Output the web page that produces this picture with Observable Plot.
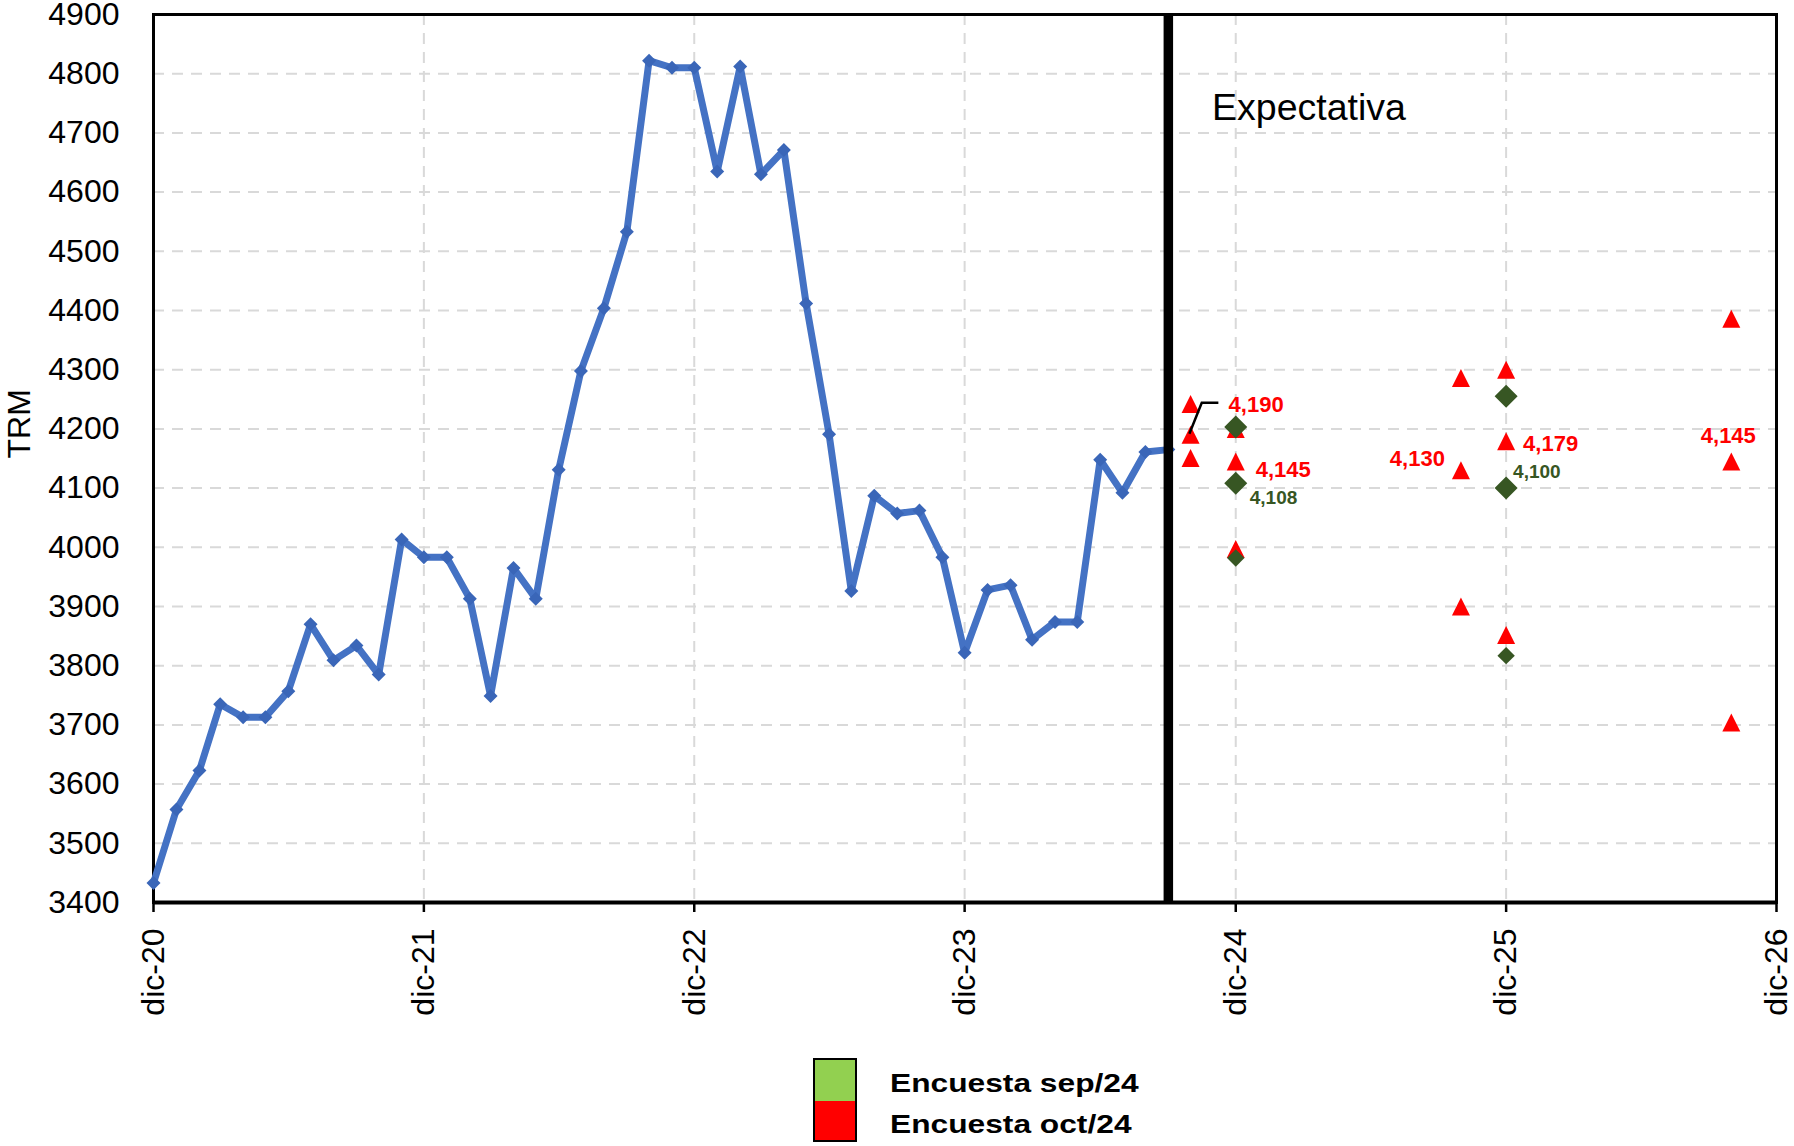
<!DOCTYPE html>
<html>
<head>
<meta charset="utf-8">
<script src="https://cdn.jsdelivr.net/npm/d3@7"></script>
<script src="https://cdn.jsdelivr.net/npm/@observablehq/plot@0.6"></script>
<style>
  html, body { margin: 0; padding: 0; background: #fff; }
  body { width: 1794px; height: 1146px; overflow: hidden; font-family: "Liberation Sans", Arial, sans-serif; }
  #legend { position: relative; width: 1794px; height: 96px; }
  .sw { position: absolute; left: 813px; width: 40px; border: 2px solid #000; }
  .lt { position: absolute; left: 890px; font-weight: bold; font-size: 26px; line-height: 26px; color: #000;
        transform: scaleX(1.22); transform-origin: left center; white-space: nowrap; }
</style>
</head>
<body>
<div id="chart"></div>
<div id="legend">
  <div class="sw" style="top:8px;height:41px;background:#92D050;"></div>
  <div class="sw" style="top:51px;height:39px;background:#FF0000;border-top:none;"></div>
  <div class="lt" style="top:20px;">Encuesta sep/24</div>
  <div class="lt" style="top:61px;">Encuesta oct/24</div>
</div>
<script>
// ---- Data ----
const meses = [
  "2020-12",
  "2021-01","2021-02","2021-03","2021-04","2021-05","2021-06","2021-07","2021-08","2021-09","2021-10","2021-11","2021-12",
  "2022-01","2022-02","2022-03","2022-04","2022-05","2022-06","2022-07","2022-08","2022-09","2022-10","2022-11","2022-12",
  "2023-01","2023-02","2023-03","2023-04","2023-05","2023-06","2023-07","2023-08","2023-09","2023-10","2023-11","2023-12",
  "2024-01","2024-02","2024-03","2024-04","2024-05","2024-06","2024-07","2024-08","2024-09"
];
const trm = [
  3433,
  3557,3623,3735,3713,3713,3757,3870,3809,3834,3785,4013,3983,
  3983,3913,3749,3965,3913,4131,4298,4404,4533,4822,4810,4810,
  4635,4812,4630,4671,4412,4191,3926,4087,4057,4062,3983,3822,
  3928,3936,3844,3874,3874,4148,4092,4161,4165
];
// Encuesta oct/24 (rojo): máximo, mediana, mínimo
const fechasOct = ["2024-10","2024-12","2025-10","2025-12","2026-10"];
const octMax = [4242, 4200, 4286, 4300, 4386];
const octMed = [4190, 4145, 4130, 4179, 4145];
const octMin = [4151, 3997, 3900, 3852, 3704];
// Encuesta sep/24 (verde): máximo, mediana, mínimo
const fechasSep = ["2024-12","2025-12"];
const sepMax = [4203, 4255];
const sepMed = [4108, 4100];
const sepMin = [3982, 3817];
// Ejes
const yTicks = [3400,3500,3600,3700,3800,3900,4000,4100,4200,4300,4400,4500,4600,4700,4800,4900];
const xTicks = ["2020-12","2021-12","2022-12","2023-12","2024-12","2025-12","2026-12"];
const mesesAbr = ["ene","feb","mar","abr","may","jun","jul","ago","sep","oct","nov","dic"];
const ultimoDato = "2024-09";

// ---- Build ----
const P = d3.utcParse("%Y-%m");
const fmt = d3.format(",");
const serie = meses.map((m, i) => ({date: P(m), v: trm[i]}));
const table = (fechas, vals) => fechas.map((f, i) => ({date: P(f), v: vals[i]}));
const tri = {draw(ctx, size) { const r = Math.sqrt(size / Math.PI); ctx.moveTo(0, -r); ctx.lineTo(r, r); ctx.lineTo(-r, r); ctx.closePath(); }};
const dia = {draw(ctx, size) { const r = Math.sqrt(size / Math.PI); ctx.moveTo(0, -r); ctx.lineTo(r, 0); ctx.lineTo(0, r); ctx.lineTo(-r, 0); ctx.closePath(); }};
const FONT = "Liberation Sans, Arial, sans-serif";
const RED = "#FF0000", GREEN = "#375623", BLUE = "#4472C4";

function label(fecha, val, color, size, dx, dy, anchor) {
  return Plot.text([val], {
    x: () => P(fecha), y: d => d, text: d => fmt(d),
    dx, dy, textAnchor: anchor, lineAnchor: "bottom",
    fill: color, fontSize: size, fontWeight: "bold", fontFamily: FONT
  });
}

const grid = {stroke: "#D9D9D9", strokeOpacity: 1, strokeWidth: 2, strokeDasharray: "11,8"};

const chart = Plot.plot({
  width: 1794, height: 1050,
  marginLeft: 153, marginRight: 18, marginTop: 14, marginBottom: 148,
  style: {fontFamily: FONT, background: "#fff", color: "#000", overflow: "visible"},
  x: {type: "utc", domain: [P("2020-12"), P("2026-12")]},
  y: {domain: [3400, 4900]},
  marks: [
    Plot.gridY(yTicks.slice(1, -1), grid),
    Plot.gridX(xTicks.slice(1, -1).map(P), grid),
    Plot.frame({stroke: "#000", strokeWidth: 3}),
    Plot.ruleY([3400], {stroke: "#000", strokeWidth: 4}),
    Plot.line(serie, {x: "date", y: "v", stroke: BLUE, strokeWidth: 7, strokeLinejoin: "miter"}),
    Plot.dot(serie, {x: "date", y: "v", symbol: dia, r: 7, fill: "#3A66B8", stroke: "none"}),
    Plot.ruleX([P(ultimoDato)], {stroke: "#000", strokeWidth: 9.5}),
    Plot.text(["Expectativa"], {x: () => P(ultimoDato), frameAnchor: "top", dx: 43.7, dy: 105, textAnchor: "start", lineAnchor: "bottom", fontSize: 37.5, fill: "#000", fontFamily: FONT}),
    Plot.dot([...table(fechasOct, octMax), ...table(fechasOct, octMed), ...table(fechasOct, octMin)],
      {x: "date", y: "v", symbol: tri, r: 9, fill: RED, stroke: "none"}),
    Plot.dot([...table(fechasSep, sepMax), ...table(fechasSep, sepMed)],
      {x: "date", y: "v", symbol: dia, r: 11.5, fill: GREEN, stroke: "none"}),
    Plot.dot(table(fechasSep, sepMin), {x: "date", y: "v", symbol: dia, r: 8.7, fill: GREEN, stroke: "none"}),
    label(fechasOct[0], octMed[0], RED, 22, 38, -23, "start"),
    label(fechasOct[1], octMed[1], RED, 22, 20, 16, "start"),
    label(fechasOct[2], octMed[2], RED, 22, -16, -4, "end"),
    label(fechasOct[3], octMed[3], RED, 22, 17, 10, "start"),
    label(fechasOct[4], octMed[4], RED, 22, -3, -18, "middle"),
    label(fechasSep[0], sepMed[0], GREEN, 19, 14, 21, "start"),
    label(fechasSep[1], sepMed[1], GREEN, 19, 7, -10, "start"),
    Plot.axisY({ticks: yTicks, tickSize: 0, tickPadding: 34, fontSize: 32, label: null, tickFormat: d => String(d)}),
    Plot.axisX({ticks: xTicks.map(P), tickSize: 10, tickPadding: 16, tickRotate: -90, fontSize: 32, label: null, strokeWidth: 2.5,
      tickFormat: d => mesesAbr[d.getUTCMonth()] + "-" + String(d.getUTCFullYear()).slice(2)}),
    Plot.text(["TRM"], {frameAnchor: "left", dx: -133.5, rotate: -90, fontSize: 32, fill: "#000", fontFamily: FONT})
  ]
});
document.getElementById("chart").appendChild(chart);

// leader line for the 4,190 label, positioned through the plot's own scales
const sx = chart.scale("x"), sy = chart.scale("y");
const px = sx.apply(P(fechasOct[0])), py = sy.apply(octMed[0]);
d3.select(chart).append("path")
  .attr("d", `M${px - 0.7},${py - 0.6}L${px + 11.7},${py - 31.6}L${px + 28.3},${py - 31.6}`)
  .attr("fill", "none").attr("stroke", "#000").attr("stroke-width", 2.5);
</script>
</body>
</html>
